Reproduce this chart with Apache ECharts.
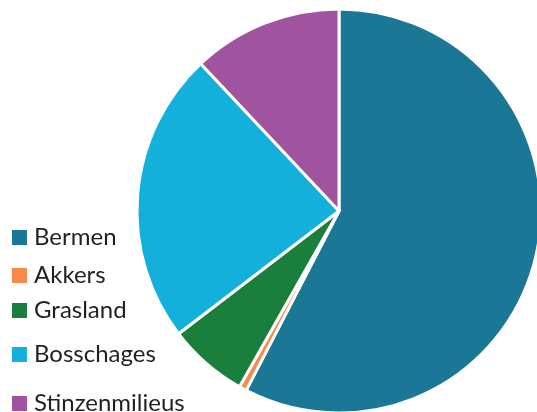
<!DOCTYPE html>
<html>
<head>
<meta charset="utf-8">
<script src="https://cdn.jsdelivr.net/npm/echarts@6/dist/echarts.min.js"></script>
<style>
  html, body { margin: 0; padding: 0; background: #fff; }
  #chart { width: 537px; height: 412px; }
</style>
</head>
<body>
<div id="chart"></div>
<script>
// share of each habitat type (percent)
const categories = ['Bermen', 'Akkers', 'Grasland', 'Bosschages', 'Stinzenmilieus'];
const shares = [57.6, 0.6, 6.4, 23.4, 12.0];
const colors = ['#1a7896', '#f58a4b', '#1a7f3c', '#14b0dc', '#a054a0'];

// legend rows sit at uneven heights in the original
const legendCenters = [234, 272, 307, 351, 400];

const chart = echarts.init(document.getElementById('chart'));

const legends = categories.map((name, i) => ({
  data: [name],
  left: 10,
  top: legendCenters[i] - 8.5,
  padding: 0,
  icon: 'rect',
  itemWidth: 17,
  itemHeight: 17,
  itemGap: 0,
  selectedMode: false,
  textStyle: {
    fontFamily: 'Lato',
    fontSize: 24,
    lineHeight: 17,
    color: '#231f20',
    padding: [0, 0, 0, 1]
  }
}));

chart.setOption({
  animation: false,
  color: colors,
  legend: legends,
  series: [
    {
      type: 'pie',
      center: [339, 211],
      radius: 202,
      startAngle: 90,
      clockwise: true,
      label: { show: false },
      labelLine: { show: false },
      emphasis: { disabled: true },
      itemStyle: {
        borderColor: '#fff',
        borderWidth: 3
      },
      data: categories.map((name, i) => ({ name: name, value: shares[i] }))
    }
  ]
});
</script>
</body>
</html>
